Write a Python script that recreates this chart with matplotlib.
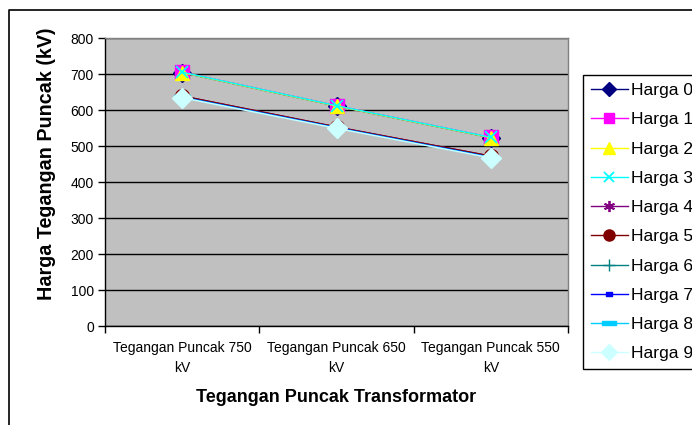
import matplotlib
matplotlib.use("Agg")
import matplotlib.pyplot as plt
from matplotlib.lines import Line2D
from matplotlib.path import Path

plt.rcParams["font.family"] = ["Liberation Sans", "DejaVu Sans"]

categories = ["Tegangan Puncak 750\nkV", "Tegangan Puncak 650\nkV", "Tegangan Puncak 550\nkV"]
series_names = ["Harga 0", "Harga 1", "Harga 2", "Harga 3", "Harga 4",
                "Harga 5", "Harga 6", "Harga 7", "Harga 8", "Harga 9"]
harga0 = [704, 611, 523]
harga1 = [705, 612, 524]
harga2 = [704, 611, 523]
harga3 = [705, 612, 524]
harga4 = [639, 553, 472]
harga5 = [639, 553, 472]
harga6 = [636, 551, 469]
harga7 = [636, 551, 469]
harga8 = [635, 550, 468]
harga9 = [634, 549, 467]
y_ticks = [0, 100, 200, 300, 400, 500, 600, 700, 800]

all_series = [harga0, harga1, harga2, harga3, harga4,
              harga5, harga6, harga7, harga8, harga9]

short_bar = Path([(-1, -0.45), (1, -0.45), (1, 0.45), (-1, 0.45), (-1, -0.45)],
                 [Path.MOVETO, Path.LINETO, Path.LINETO, Path.LINETO, Path.CLOSEPOLY])
long_bar = Path([(-1, -0.25), (1, -0.25), (1, 0.25), (-1, 0.25), (-1, -0.25)],
                [Path.MOVETO, Path.LINETO, Path.LINETO, Path.LINETO, Path.CLOSEPOLY])

# marker, size on plot, size in legend
styles = [
    dict(color="#000080", marker="D", ms=9, lms=7),
    dict(color="#FF00FF", marker="s", ms=9.5, lms=7.5),
    dict(color="#FFFF00", marker="^", ms=10, lms=8),
    dict(color="#00FFFF", marker="x", ms=9, lms=7, mew=1.3),
    dict(color="#800080", marker=(6, 2, 0), ms=9, lms=8, mew=1.3),
    dict(color="#800000", marker="o", ms=10, lms=8),
    dict(color="#008080", marker="+", ms=9, lms=8, mew=1.0),
    dict(color="#0000FF", marker=short_bar, ms=6, lms=5),
    dict(color="#00CCFF", marker=long_bar, ms=11, lms=10),
    dict(color="#CCFFFF", marker="D", ms=10, lms=8),
]

fig = plt.figure(figsize=(6.92, 4.25), dpi=100)
ax = fig.add_axes([105 / 692, 1 - 326 / 425, 463 / 692, 288 / 425])
ax.set_facecolor("#C0C0C0")

x = list(range(len(categories)))
for name, vals, st in zip(series_names, all_series, styles):
    ax.plot(x, vals, color=st["color"], lw=1.0, marker=st["marker"],
            ms=st["ms"], mfc=st["color"], mec=st["color"],
            mew=st.get("mew", 1.0), label=name)

ax.set_xlim(-0.5, 2.5)
ax.set_ylim(0, 800)
ax.set_yticks(y_ticks)
ax.yaxis.grid(True, color="black", lw=1.0)
ax.set_axisbelow(True)
ax.tick_params(axis="y", labelsize=10, length=5, width=1, direction="out", pad=3)

ax.set_xticks(x)
ax.set_xticklabels(categories, fontsize=10, linespacing=1.55)
ax.set_xticks([-0.5, 0.5, 1.5, 2.5], minor=True)
ax.tick_params(axis="x", which="major", length=0, pad=11)
ax.tick_params(axis="x", which="minor", length=5, width=1, direction="out")

for s in ["left", "bottom"]:
    ax.spines[s].set_color("black")
    ax.spines[s].set_linewidth(1.0)
for s in ["top", "right"]:
    ax.spines[s].set_color("#808080")
    ax.spines[s].set_linewidth(1.0)

fig.text(47 / 692, 1 - 164 / 425, "Harga Tegangan Puncak (kV)", fontsize=14.2,
         fontweight="bold", rotation=90, ha="center", va="center")
fig.text(336 / 692, 1 - 398 / 425, "Tegangan Puncak Transformator", fontsize=13,
         fontweight="bold", ha="center", va="center")

# legend runs past the right edge of the figure, as in the original
leg = fig.legend(loc="upper left", bbox_to_anchor=(583 / 692, 1 - 75 / 425),
                 borderaxespad=0, fontsize=12.6, frameon=True, fancybox=False,
                 edgecolor="black", framealpha=1, handlelength=2.1,
                 handletextpad=0.2, labelspacing=0.8, borderpad=0.45)
leg.get_frame().set_linewidth(1.0)
for h, st in zip(leg.legend_handles, styles):
    h.set_markersize(st["lms"])

fig.add_artist(Line2D([9 / 692, 9 / 692, 1.0], [0.0, 1 - 10 / 425, 1 - 10 / 425],
                      color="black", lw=1.2, transform=fig.transFigure))

fig.savefig("out.png", dpi=100)
